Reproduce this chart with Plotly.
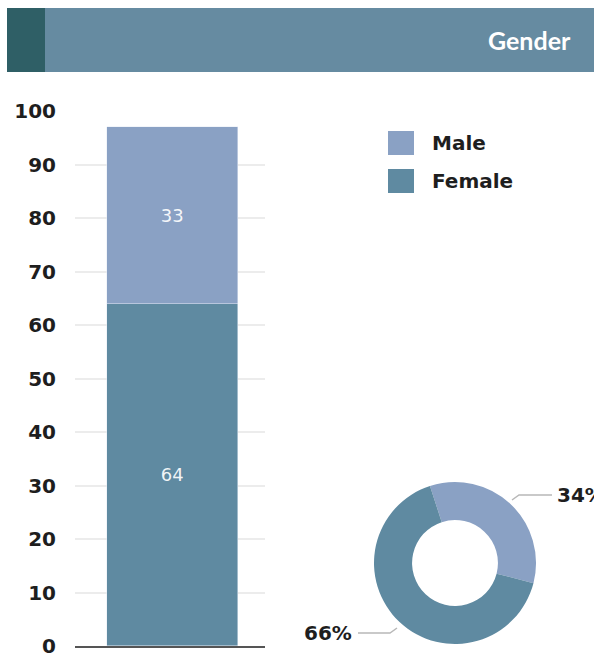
import plotly.graph_objects as go

# Gender breakdown: stacked bar (counts) and donut (shares)
group = ["All"]
series_names = ["Female", "Male"]
female_counts = [64]
male_counts = [33]
share_labels = ["Male", "Female"]
share_values = [34, 66]
y_ticks = [0, 10, 20, 30, 40, 50, 60, 70, 80, 90, 100]
title_text = "Gender"

W, H = 594, 656
MALE_C = "#8aa1c4"
FEMALE_C = "#5f8aa1"
HEADER_C = "#668ba1"
HEADER_DARK = "#2f5f66"
TEXT_C = "#1e1e1e"
TICK_FONT = dict(family="DejaVu Sans", size=20, color=TEXT_C, weight=700)
BAR_TEXT_FONT = dict(family="DejaVu Sans", size=18, color="rgba(255,255,255,0.92)")


def px(x):
    return x / W


def py(y):
    return (H - y) / H


fig = go.Figure()

fig.add_trace(go.Bar(
    x=group, y=female_counts, name=series_names[0], marker_color=FEMALE_C,
    width=1, text=[str(v) for v in female_counts], textposition="inside",
    insidetextanchor="middle", textfont=BAR_TEXT_FONT,
    showlegend=False, hoverinfo="skip",
))
fig.add_trace(go.Bar(
    x=group, y=male_counts, name=series_names[1], marker_color=MALE_C,
    width=1, text=[str(v) for v in male_counts], textposition="inside",
    insidetextanchor="middle", textfont=BAR_TEXT_FONT,
    showlegend=False, hoverinfo="skip",
))

# donut of shares
fig.add_trace(go.Pie(
    labels=share_labels, values=share_values, hole=0.53, sort=False,
    direction="clockwise", rotation=-18,
    marker=dict(colors=[MALE_C, FEMALE_C]), textinfo="none",
    domain=dict(x=[px(374), px(536)], y=[py(644), py(482)]),
    showlegend=False, hoverinfo="skip",
))

fig.update_layout(
    width=W, height=H, barmode="stack",
    margin=dict(l=0, r=0, t=0, b=0),
    paper_bgcolor="white", plot_bgcolor="white",
    bargap=0,
    xaxis=dict(domain=[px(75), px(265)], range=[-0.744, 0.706],
               showticklabels=False, showgrid=False, zeroline=False,
               showline=True, linecolor="#555", linewidth=1.5,
               fixedrange=True),
    yaxis=dict(domain=[py(646), py(111)], range=[0, 100],
               tickvals=y_ticks, ticktext=[str(v) for v in y_ticks],
               tickfont=TICK_FONT, showgrid=True, gridcolor="#ececec",
               gridwidth=2, zeroline=False, showline=False,
               ticks="", ticklabelstandoff=18, automargin=False,
               ticklabeloverflow="allow"),
)

shapes = []
annotations = []

# header band
shapes.append(dict(type="rect", xref="paper", yref="paper",
                   x0=px(7), x1=1.0, y0=py(72), y1=py(8),
                   fillcolor=HEADER_C, line_width=0, layer="below"))
shapes.append(dict(type="rect", xref="paper", yref="paper",
                   x0=px(7), x1=px(45), y0=py(72), y1=py(8),
                   fillcolor=HEADER_DARK, line_width=0, layer="below"))
annotations.append(dict(text=title_text, xref="paper", yref="paper",
                        x=px(573), y=py(40), xanchor="right", yanchor="middle",
                        showarrow=False,
                        font=dict(family="Lato", size=25, color="white",
                                  weight=700)))

# legend
legend_items = [(series_names[1], MALE_C, 143), (series_names[0], FEMALE_C, 181)]
for name, color, yc in legend_items:
    shapes.append(dict(type="rect", xref="paper", yref="paper",
                       x0=px(388), x1=px(414), y0=py(yc + 12), y1=py(yc - 12),
                       fillcolor=color, line_width=0))
    annotations.append(dict(text=name, xref="paper", yref="paper",
                            x=px(430), y=py(yc), xanchor="left",
                            yanchor="middle", showarrow=False,
                            font=TICK_FONT))

# donut leader lines and labels
shapes.append(dict(type="path", xref="paper", yref="paper",
                   path=f"M {px(512)} {py(500)} L {px(519)} {py(495)} L {px(552)} {py(495)}",
                   line=dict(color="#b8b8b8", width=1.5)))
annotations.append(dict(text=f"{share_values[0]}%", xref="paper", yref="paper",
                        x=px(555), y=py(495), xanchor="left", yanchor="middle",
                        showarrow=False, font=TICK_FONT))
shapes.append(dict(type="path", xref="paper", yref="paper",
                   path=f"M {px(358)} {py(633)} L {px(390)} {py(633)} L {px(397)} {py(628)}",
                   line=dict(color="#b8b8b8", width=1.5)))
annotations.append(dict(text=f"{share_values[1]}%", xref="paper", yref="paper",
                        x=px(354), y=py(633), xanchor="right", yanchor="middle",
                        showarrow=False, font=TICK_FONT))

fig.update_layout(shapes=shapes, annotations=annotations)

fig.write_html("out.html", config=dict(displayModeBar=False))
